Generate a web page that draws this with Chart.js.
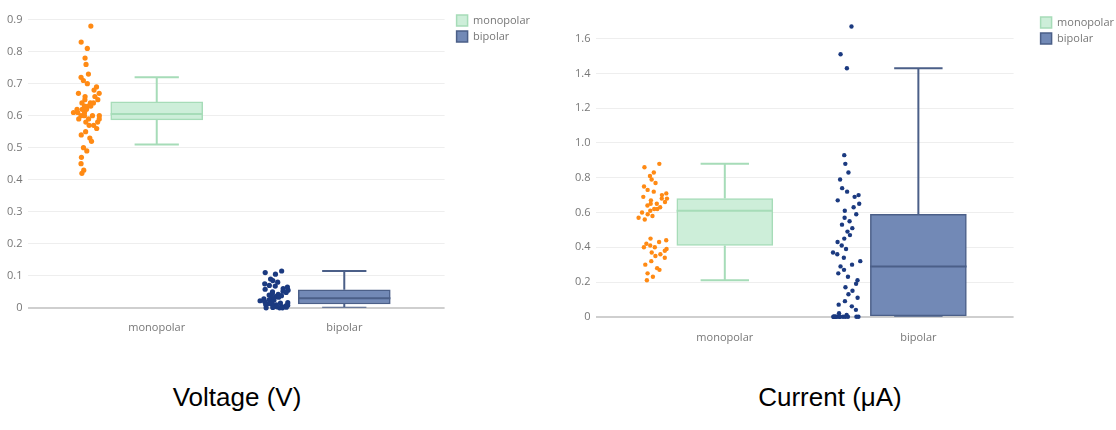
<!DOCTYPE html>
<html lang="en">
<head>
  <meta charset="UTF-8">
  <title>Voltage and current box plots</title>
  <script src="https://cdn.jsdelivr.net/npm/chart.js"></script>
  <style>
    body {
      margin: 0;
      width: 1116px;
      height: 430px;
      background: #fff;
      position: relative;
      overflow: hidden;
    }
    .panel { position: absolute; top: 0; }
    #left { left: 0; }
    #right { left: 548px; }
    .caption {
      position: absolute;
      top: 382px;
      font-family: 'Liberation Sans Narrow', 'Liberation Sans', sans-serif;
      font-size: 26px;
      color: #000;
      transform: translateX(-50%);
      white-space: nowrap;
    }
  </style>
</head>
<body>
  <div class="panel" id="left"><canvas id="voltage" width="550" height="344"></canvas></div>
  <div class="panel" id="right"><canvas id="current" width="578" height="355"></canvas></div>
  <div class="caption" style="left:237px">Voltage (V)</div>
  <div class="caption" style="left:830px">Current (μA)</div>
  <script>
    const categories = ['monopolar', 'bipolar'];
    const voltageTicks = [0, 0.1, 0.2, 0.3, 0.4, 0.5, 0.6, 0.7, 0.8, 0.9];
    const currentTicks = [0, 0.2, 0.4, 0.6, 0.8, 1, 1.2, 1.4, 1.6];

    // raw measurements (jittered points)
    const voltageMonopolar = [0.88, 0.83, 0.81, 0.78, 0.76, 0.73, 0.72, 0.71, 0.70, 0.69, 0.68, 0.67, 0.67,
      0.66, 0.66, 0.65, 0.65, 0.64, 0.64, 0.64, 0.63, 0.63, 0.63, 0.62, 0.62, 0.62, 0.61, 0.61, 0.61,
      0.60, 0.60, 0.60, 0.60, 0.59, 0.59, 0.59, 0.58, 0.58, 0.57, 0.57, 0.56, 0.55, 0.54, 0.53, 0.52,
      0.50, 0.49, 0.47, 0.45, 0.43, 0.42];
    const voltageBipolar = [0.115, 0.11, 0.105, 0.09, 0.085, 0.08, 0.075, 0.07, 0.068, 0.065, 0.06, 0.058,
      0.055, 0.052, 0.05, 0.048, 0.045, 0.042, 0.04, 0.038, 0.035, 0.033, 0.03, 0.028, 0.026, 0.024,
      0.022, 0.02, 0.018, 0.016, 0.015, 0.013, 0.012, 0.01, 0.009, 0.008, 0.006, 0.005, 0.004, 0.003,
      0.002, 0.001, 0, 0, 0];
    const currentMonopolar = [0.88, 0.86, 0.83, 0.81, 0.79, 0.77, 0.75, 0.73, 0.72, 0.71, 0.70, 0.69, 0.68,
      0.68, 0.67, 0.66, 0.65, 0.65, 0.64, 0.63, 0.62, 0.62, 0.61, 0.60, 0.59, 0.58, 0.57, 0.56, 0.45,
      0.44, 0.43, 0.42, 0.41, 0.40, 0.40, 0.39, 0.38, 0.37, 0.36, 0.35, 0.34, 0.32, 0.30, 0.28, 0.27,
      0.25, 0.23, 0.21];
    const currentBipolar = [1.67, 1.51, 1.43, 0.93, 0.88, 0.83, 0.79, 0.74, 0.72, 0.70, 0.69, 0.67, 0.65,
      0.63, 0.61, 0.59, 0.57, 0.55, 0.53, 0.51, 0.49, 0.47, 0.45, 0.43, 0.41, 0.39, 0.37, 0.36, 0.34,
      0.32, 0.30, 0.29, 0.27, 0.25, 0.23, 0.21, 0.19, 0.17, 0.15, 0.13, 0.11, 0.09, 0.07, 0.06, 0.04,
      0.02, 0.01, 0, 0, 0, 0, 0, 0, 0, 0, 0, 0, 0, 0, 0];

    // box statistics, [monopolar, bipolar]
    const voltageLow = [0.51, 0];
    const voltageQ1 = [0.587, 0.012];
    const voltageMedian = [0.605, 0.03];
    const voltageQ3 = [0.643, 0.056];
    const voltageHigh = [0.72, 0.115];
    const currentLow = [0.21, 0];
    const currentQ1 = [0.41, 0];
    const currentMedian = [0.61, 0.29];
    const currentQ3 = [0.68, 0.59];
    const currentHigh = [0.88, 1.43];

    const boxFill = ['#cdeed9', '#7289b6'];
    const boxLine = ['#a6dcb8', '#4b5f88'];
    const pointColor = ['#ff8a14', '#1b3a80'];

    // spread points sideways, wider where values are dense
    function jitter(values, center, width, range) {
      return values.map((v, i) => {
        const near = values.filter(w => Math.abs(w - v) < range * 0.03).length;
        const spread = width * Math.min(1, 0.3 + near / 12);
        const r = Math.sin((i + 1) * 12.9898) * 43758.5453;
        const u = r - Math.floor(r) - 0.5;
        return { x: center + u * 2 * spread, y: v };
      });
    }

    function whiskerLines(i, low, q1, med, q3, high, capHalf, boxHalf) {
      const c = i;
      return [
        { x: c - capHalf, y: low[i] }, { x: c + capHalf, y: low[i] }, { x: c, y: null },
        { x: c, y: low[i] }, { x: c, y: q1[i] }, { x: c, y: null },
        { x: c, y: q3[i] }, { x: c, y: high[i] }, { x: c, y: null },
        { x: c - capHalf, y: high[i] }, { x: c + capHalf, y: high[i] }, { x: c, y: null },
        { x: c - boxHalf, y: med[i] }, { x: c + boxHalf, y: med[i] }
      ];
    }

    function drawBoxChart(id, o) {
      const datasets = [];
      categories.forEach((name, i) => {
        datasets.push({
          type: 'bar',
          label: name,
          data: [{ x: i, y: [o.q1[i], o.q3[i]] }],
          backgroundColor: boxFill[i],
          borderColor: boxLine[i],
          borderWidth: 1.5,
          borderSkipped: false,
          barThickness: o.boxPx,
          grouped: false,
          order: 3
        });
      });
      categories.forEach((name, i) => {
        datasets.push({
          type: 'scatter',
          label: name + ' whiskers',
          data: whiskerLines(i, o.low, o.q1, o.med, o.q3, o.high, o.capHalf, o.boxHalf),
          showLine: true,
          spanGaps: false,
          borderColor: boxLine[i],
          borderWidth: 2,
          pointRadius: 0,
          order: 2
        });
      });
      o.points.forEach((vals, i) => {
        datasets.push({
          type: 'scatter',
          label: categories[i] + ' points',
          data: jitter(vals, i + o.pointOffset, o.jitterWidth[i], o.yMax),
          backgroundColor: pointColor[i],
          borderColor: pointColor[i],
          pointRadius: o.pointRadius,
          borderWidth: 0,
          clip: false,
          order: 1
        });
      });

      new Chart(document.getElementById(id), {
        data: { datasets },
        options: {
          responsive: false,
          animation: false,
          layout: { padding: o.padding },
          plugins: {
            tooltip: { enabled: false },
            legend: {
              position: 'right',
              align: 'start',
              labels: {
                filter: item => categories.includes(item.text),
                boxWidth: 11,
                boxHeight: 11,
                padding: 5,
                color: '#777',
                font: { family: 'Open Sans', size: 11 }
              }
            }
          },
          scales: {
            x: {
              type: 'linear',
              min: o.xMin,
              max: o.xMax,
              offset: false,
              bounds: 'data',
              afterBuildTicks: s => { s.ticks = categories.map((c, i) => ({ value: i })); },
              ticks: {
                callback: v => categories[v],
                color: '#777',
                padding: o.xPad,
                maxRotation: 0,
                font: { family: 'Open Sans', size: 11 }
              },
              grid: { display: false, offset: false },
              border: { display: false }
            },
            y: {
              min: 0,
              max: o.yMax,
              afterBuildTicks: s => { s.ticks = o.ticks.map(v => ({ value: v })); },
              ticks: {
                color: '#777',
                padding: 6,
                font: { family: 'Open Sans', size: 11 }
              },
              grid: {
                drawTicks: false,
                color: c => c.tick && c.tick.value === 0 ? '#cfcfcf' : '#eeeeee',
                lineWidth: c => c.tick && c.tick.value === 0 ? 2 : 1
              },
              border: { display: false }
            },
            gap: {
              type: 'linear',
              position: 'right',
              display: true,
              ticks: { display: false },
              grid: { display: false },
              border: { display: false },
              afterFit: s => { s.width = o.gap; }
            }
          }
        }
      });
    }

    drawBoxChart('voltage', {
      points: [voltageMonopolar, voltageBipolar],
      low: voltageLow, q1: voltageQ1, med: voltageMedian, q3: voltageQ3, high: voltageHigh,
      ticks: voltageTicks, yMax: 0.922,
      xMin: -0.684, xMax: 1.535,
      pointOffset: -0.374, jitterWidth: [0.07, 0.075], pointRadius: 2.6,
      boxPx: 92, capHalf: 0.118, boxHalf: 0.246,
      padding: { left: 1, top: 10, right: 10, bottom: 5 },
      xPad: 5, gap: 7
    });

    drawBoxChart('current', {
      points: [currentMonopolar, currentBipolar],
      low: currentLow, q1: currentQ1, med: currentMedian, q3: currentQ3, high: currentHigh,
      ticks: currentTicks, yMax: 1.75,
      xMin: -0.663, xMax: 1.492,
      pointOffset: -0.373, jitterWidth: [0.075, 0.085], pointRadius: 2.2,
      boxPx: 96, capHalf: 0.125, boxHalf: 0.249,
      padding: { left: 21, top: 12, right: 2, bottom: 5 },
      xPad: 6, gap: 22
    });
  </script>
</body>
</html>
